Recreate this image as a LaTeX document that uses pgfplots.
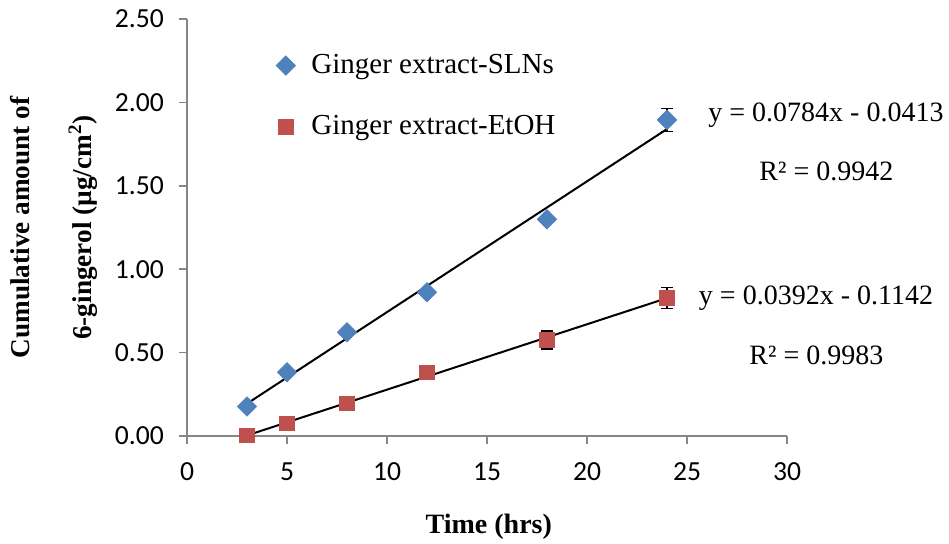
\documentclass[border=0pt]{standalone}
\usepackage{pgfplots}
\pgfplotsset{compat=1.18}
\usepackage{fontspec}
\setmainfont{Liberation Serif}
\newfontfamily\carlito{Carlito}
\definecolor{sblue}{HTML}{4F81BD}
\definecolor{sred}{HTML}{C0504D}
\definecolor{axgray}{HTML}{868686}
\begin{document}
\begin{tikzpicture}
\path[use as bounding box] (-93.5pt,-54pt) rectangle (381pt,218pt);
\begin{axis}[
  at={(0,0)}, anchor=south west,
  scale only axis, width=300pt, height=208.5pt,
  xmin=0, xmax=30, ymin=0, ymax=2.5,
  xtick={0,5,10,15,20,25,30},
  ytick={0,0.5,1,1.5,2,2.5},
  axis x line*=bottom, axis y line*=left,
  axis line style={axgray, line width=0.8pt, -},
  tick style={axgray, line width=0.8pt},
  major tick length=4pt, tick align=outside,
  clip=false,
  /pgf/number format/assume math mode=true,
  tick label style={font=\carlito\fontsize{13.8}{14}\selectfont, black},
  yticklabel style={/pgf/number format/.cd, fixed, fixed zerofill, precision=2, /tikz/.cd, xshift=-4pt},
  xticklabel style={yshift=-6pt},
  xlabel={Time (hrs)},
  xlabel style={font=\bfseries\fontsize{14}{17}\selectfont, at={(axis description cs:0.503,0)}, anchor=center, yshift=-45.5pt},
  ylabel={Cumulative amount of\\6-gingerol (µg/cm\textsuperscript{2})},
  ylabel style={font=\bfseries\fontsize{13.6}{31}\selectfont, align=center, at={(axis description cs:0,0.5)}, anchor=center, yshift=66.5pt},
  legend style={draw=none, fill=none, at={(rel axis cs:0.138,0.935)}, anchor=north west,
    font=\fontsize{14.5}{17}\selectfont, row sep=15.5pt, legend cell align=left,
    /tikz/every odd column/.append style={column sep=6pt}},
]
% error bars (drawn first, under markers)
\addplot[forget plot, only marks, mark=none, error bars/.cd, y dir=both, y explicit,
  error bar style={black, line width=0.8pt},
  error mark options={rotate=90, mark size=3pt, black, line width=0.8pt}]
  coordinates {(24,1.895) +- (0,0.069)};
\addplot[forget plot, only marks, mark=none, error bars/.cd, y dir=both, y explicit,
  error bar style={black, line width=0.8pt},
  error mark options={rotate=90, mark size=3pt, black, line width=0.8pt}]
  coordinates {(18,0.575) +- (0,0.054) (24,0.827) +- (0,0.063)};
% markers
\addplot[only marks, mark=square*, mark size=3.4pt, mark options={rotate=45, fill=sblue, draw=sblue}, sblue]
  coordinates {(3,0.177) (5,0.382) (8,0.622) (12,0.862) (18,1.299) (24,1.895)};
\addlegendentry{Ginger extract-SLNs}
\addplot[only marks, mark=square*, mark size=3.6pt, mark options={fill=sred, draw=sred}, sred]
  coordinates {(3,0.004) (5,0.077) (8,0.195) (12,0.381) (18,0.575) (24,0.827)};
\addlegendentry{Ginger extract-EtOH}
% trend lines
\addplot[forget plot, black, line width=1pt] coordinates {(3,0.1939) (24,1.8403)};
\addplot[forget plot, black, line width=1pt] coordinates {(3,0.0034) (24,0.8266)};
\node[font=\fontsize{14}{17}\selectfont] at (axis cs:31.95,1.924) {y = 0.0784x - 0.0413};
\node[font=\fontsize{14}{17}\selectfont] at (axis cs:31.97,1.589) {R² = 0.9942};
\node[font=\fontsize{14}{17}\selectfont] at (axis cs:31.45,0.827) {y = 0.0392x - 0.1142};
\node[font=\fontsize{14}{17}\selectfont] at (axis cs:31.47,0.486) {R² = 0.9983};
\end{axis}
\end{tikzpicture}
\end{document}
